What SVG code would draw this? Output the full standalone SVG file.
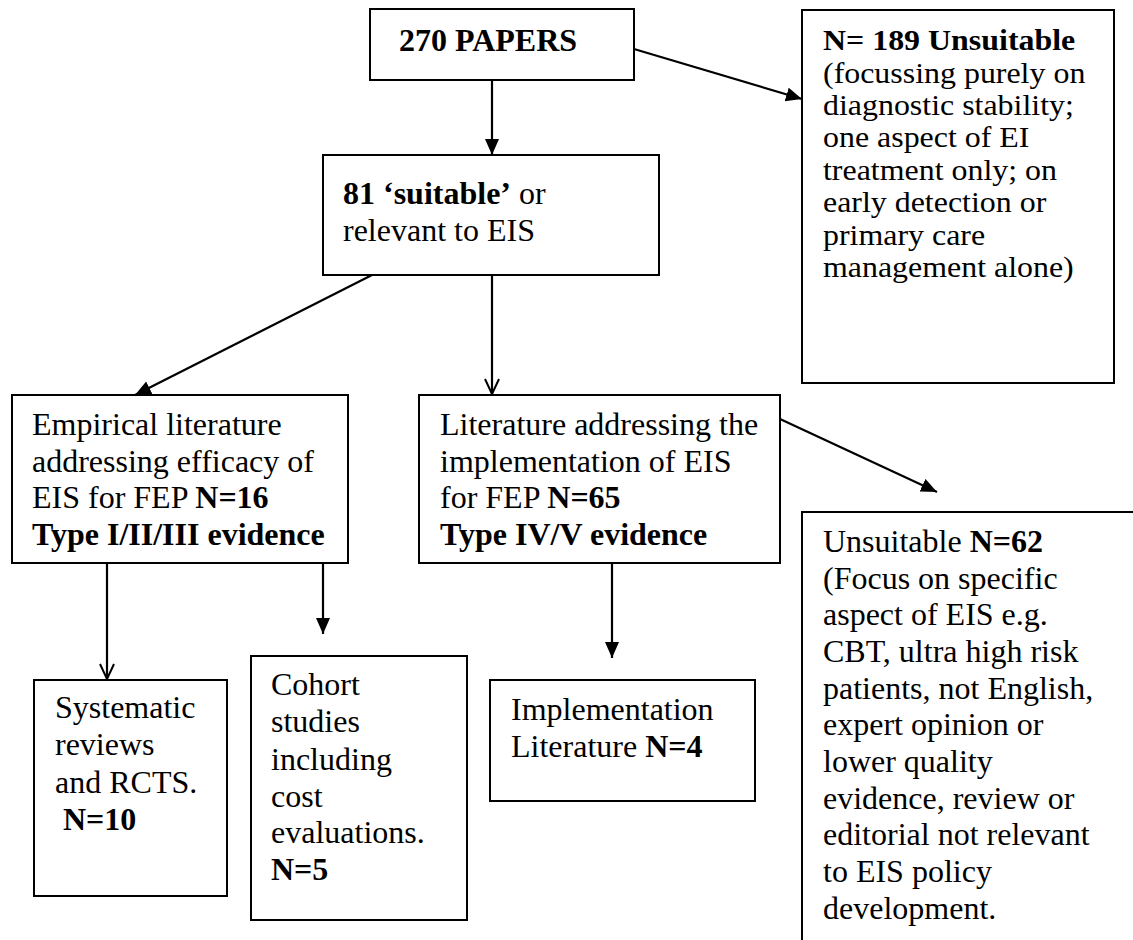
<svg xmlns="http://www.w3.org/2000/svg" width="1133" height="940" viewBox="0 0 1133 940">
<style>
.box{fill:#fff;stroke:#000;stroke-width:2}
.t{font-family:"Liberation Serif","Times New Roman",serif;font-size:32px;fill:#000}
.s{font-size:28.5px}
.b{font-weight:bold}
.c{stroke:#000;stroke-width:2.2;fill:none}
</style>
<defs>
<marker id="fa" markerUnits="userSpaceOnUse" markerWidth="18" markerHeight="16" refX="16" refY="7" orient="auto">
<path d="M0,0 L16,7 L0,14 z" fill="#000"/>
</marker>
<marker id="oa" markerUnits="userSpaceOnUse" markerWidth="18" markerHeight="18" refX="16" refY="8" orient="auto">
<path d="M1,1 L16,8 L1,15" fill="none" stroke="#000" stroke-width="2"/>
</marker>
</defs>
<rect width="1133" height="940" fill="#fff"/>
<g id="connectors">
<line class="c" x1="492" y1="80" x2="492" y2="155" marker-end="url(#fa)"/>
<line class="c" x1="634" y1="49" x2="802" y2="99" marker-end="url(#fa)"/>
<line class="c" x1="372" y1="275" x2="135" y2="395" marker-end="url(#fa)"/>
<line class="c" x1="492" y1="275" x2="492" y2="394" marker-end="url(#oa)"/>
<line class="c" x1="780" y1="419" x2="937" y2="492" marker-end="url(#fa)"/>
<line class="c" x1="107" y1="563" x2="107" y2="679" marker-end="url(#oa)"/>
<line class="c" x1="323" y1="560" x2="323" y2="634" marker-end="url(#fa)"/>
<line class="c" x1="612" y1="563" x2="612" y2="658" marker-end="url(#fa)"/>
</g>
<g id="n270">
<rect class="box" x="370" y="9" width="264" height="71"/>
<text class="t b" x="399" y="51">270 PAPERS</text>
</g>
<g id="n189">
<rect class="box" x="802" y="10" width="312" height="373"/>
<g transform="translate(823,0) scale(1.12,1)">
<text class="t s"><tspan x="0" y="50" class="b">N= 189 Unsuitable</tspan><tspan x="0" y="83">(focussing purely on</tspan><tspan x="0" y="115">diagnostic stability;</tspan><tspan x="0" y="147">one aspect of EI</tspan><tspan x="0" y="180">treatment only; on</tspan><tspan x="0" y="212">early detection or</tspan><tspan x="0" y="245">primary care</tspan><tspan x="0" y="277">management alone)</tspan></text>
</g>
</g>
<g id="n81">
<rect class="box" x="323" y="155" width="336" height="120"/>
<text class="t" x="343" y="204"><tspan class="b">81 ‘suitable’</tspan> or</text>
<text class="t" x="343" y="241">relevant to EIS</text>
</g>
<g id="nEmp">
<rect class="box" x="12" y="395" width="336" height="168"/>
<text class="t" x="32" y="435">Empirical literature</text>
<text class="t" x="32" y="472">addressing efficacy of</text>
<text class="t" x="32" y="508">EIS for FEP <tspan class="b">N=16</tspan></text>
<text class="t b" x="32" y="545">Type I/II/III evidence</text>
</g>
<g id="nLit">
<rect class="box" x="419" y="395" width="361" height="168"/>
<text class="t" x="440" y="435">Literature addressing the</text>
<text class="t" x="440" y="472">implementation of EIS</text>
<text class="t" x="440" y="508">for FEP <tspan class="b">N=65</tspan></text>
<text class="t b" x="440" y="545">Type IV/V evidence</text>
</g>
<g id="n62">
<rect class="box" x="802" y="512" width="340" height="440"/>
<text class="t"><tspan x="823" y="552">Unsuitable <tspan class="b">N=62</tspan></tspan><tspan x="823" y="588.7">(Focus on specific</tspan><tspan x="823" y="625.3">aspect of EIS e.g.</tspan><tspan x="823" y="662">CBT, ultra high risk</tspan><tspan x="823" y="698.7">patients, not English,</tspan><tspan x="823" y="735.3">expert opinion or</tspan><tspan x="823" y="772">lower quality</tspan><tspan x="823" y="808.7">evidence, review or</tspan><tspan x="823" y="845.3">editorial not relevant</tspan><tspan x="823" y="882">to EIS policy</tspan><tspan x="823" y="918.7">development.</tspan></text>
</g>
<g id="nSys">
<rect class="box" x="34" y="680" width="193" height="216"/>
<text class="t"><tspan x="55" y="718">Systematic</tspan><tspan x="55" y="755">reviews</tspan><tspan x="55" y="793">and RCTS.</tspan><tspan x="63" y="830" class="b">N=10</tspan></text>
</g>
<g id="nCoh">
<rect class="box" x="251" y="656" width="216" height="264"/>
<text class="t"><tspan x="271" y="695">Cohort</tspan><tspan x="271" y="732">studies</tspan><tspan x="271" y="770">including</tspan><tspan x="271" y="807">cost</tspan><tspan x="271" y="843">evaluations.</tspan><tspan x="271" y="880" class="b">N=5</tspan></text>
</g>
<g id="nImp">
<rect class="box" x="490" y="680" width="265" height="121"/>
<text class="t" x="511" y="720">Implementation</text>
<text class="t" x="511" y="757">Literature <tspan class="b">N=4</tspan></text>
</g>
</svg>
